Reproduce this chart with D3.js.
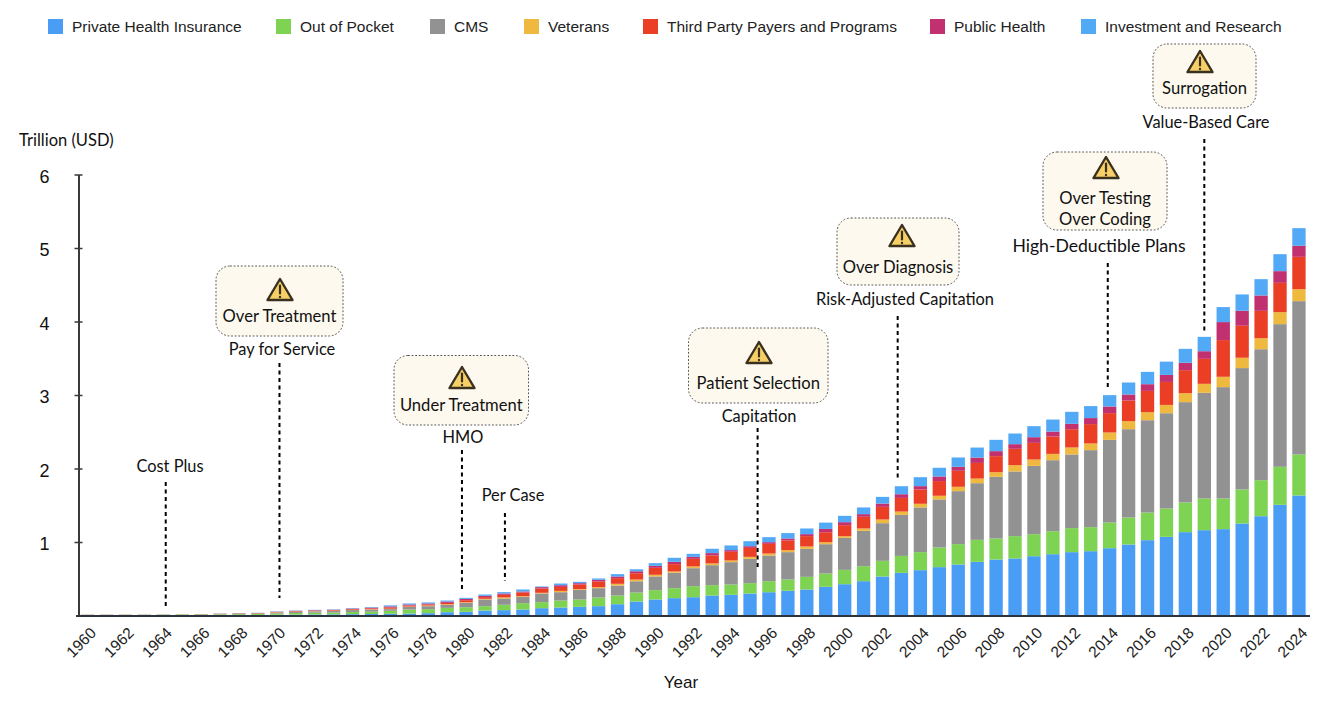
<!DOCTYPE html>
<html><head><meta charset="utf-8">
<script src="https://cdn.jsdelivr.net/npm/d3@7"></script>
<style>html,body{margin:0;padding:0;background:#fff}svg{display:block}</style>
</head><body><svg id="c" width="1332" height="704"></svg>
<script>
const years = d3.range(1960, 2025);
const seriesNames = ["Private Health Insurance","Out of Pocket","CMS","Veterans","Third Party Payers and Programs","Public Health","Investment and Research"];
const privateHealth = [.002,.002,.002,.002,.003,.003,.003,.004,.005,.006,.010,.012,.014,.015,.018,.020,.023,.027,.032,.045,.050,.068,.073,.082,.100,.109,.118,.127,.154,.190,.218,.236,.249,.272,.281,.299,.317,.336,.354,.390,.426,.467,.531,.580,.617,.658,.694,.730,.762,.776,.807,.834,.862,.875,.916,.966,1.025,1.070,1.134,1.161,1.175,1.252,1.351,1.506,1.633];
const outOfPocket = [.007,.007,.008,.008,.009,.010,.010,.011,.013,.014,.018,.022,.024,.026,.030,.032,.041,.054,.054,.059,.063,.059,.073,.086,.082,.095,.100,.118,.118,.122,.127,.136,.150,.141,.141,.141,.150,.154,.172,.181,.195,.204,.213,.231,.245,.268,.277,.299,.286,.304,.299,.313,.327,.327,.349,.367,.376,.385,.404,.431,.417,.463,.490,.517,.558];
const cms = [0,0,0,0,0,0,.002,.004,.007,.008,.012,.016,.018,.020,.026,.028,.023,.036,.041,.041,.059,.091,.086,.086,.118,.113,.132,.127,.136,.154,.186,.209,.245,.272,.304,.331,.349,.372,.381,.399,.435,.481,.512,.558,.608,.653,.721,.771,.839,.880,.930,.966,1.002,1.048,1.125,1.202,1.256,1.297,1.365,1.438,1.515,1.651,1.782,1.941,2.086];
const veterans = [.001,.001,.001,.001,.001,.001,.001,.001,.002,.002,.003,.003,.003,.004,.004,.005,.005,.005,.009,.009,.009,.009,.014,.009,.009,.018,.009,.014,.023,.023,.023,.018,.023,.023,.023,.027,.027,.027,.032,.027,.023,.032,.050,.045,.050,.050,.059,.063,.063,.086,.086,.086,.095,.091,.100,.109,.109,.113,.122,.122,.141,.141,.150,.163,.163];
const thirdParty = [.001,.001,.001,.001,.001,.001,.002,.002,.003,.003,.005,.007,.008,.008,.010,.012,.018,.014,.014,.018,.027,.023,.036,.050,.059,.054,.063,.077,.077,.086,.095,.100,.104,.109,.118,.122,.132,.132,.141,.136,.150,.159,.172,.186,.195,.200,.218,.213,.218,.222,.227,.236,.249,.263,.263,.281,.290,.313,.313,.340,.499,.435,.372,.399,.440];
const publicHealth = [.001,.001,.001,.001,.001,.001,.001,.002,.002,.002,.003,.004,.005,.005,.006,.010,.014,.014,.014,.018,.018,.018,.018,.014,.018,.023,.018,.023,.023,.027,.027,.032,.027,.032,.023,.023,.023,.027,.027,.045,.041,.036,.045,.050,.045,.063,.054,.073,.068,.063,.077,.068,.073,.082,.091,.082,.091,.095,.100,.104,.245,.204,.209,.159,.150];
const investment = [.001,.001,.001,.001,.001,.001,.001,.002,.002,.002,.004,.004,.005,.005,.006,.008,.014,.014,.014,.014,.014,.018,.018,.027,.009,.023,.018,.018,.032,.027,.036,.054,.041,.059,.063,.068,.068,.073,.077,.086,.086,.091,.091,.109,.122,.118,.127,.136,.154,.145,.150,.163,.163,.163,.154,.163,.168,.181,.190,.195,.204,.222,.222,.231,.240];
const yTicks = [1,2,3,4,5,6];
const xTickYears = years.filter(y => y % 2 === 0);
const policyNames = ["Cost Plus","Pay for Service","HMO","Per Case","Capitation","Risk-Adjusted Capitation","High-Deductible Plans","Value-Based Care"];
const policyYears = [1964.13,1970.14,1979.78,1982.05,1995.4,2002.8,2013.9,2019];
const riskNames = [null,["Over Treatment"],["Under Treatment"],null,["Patient Selection"],["Over Diagnosis"],["Over Testing","Over Coding"],["Surrogation"]];

// styles and layout
const colors = ["#4a9df5","#7fd353","#929292","#efb83f","#ea3f24","#c1306f","#52a9f6"];
const legendSwatchX = [48,276,430,524,643,930,1081];
const sans = "'Liberation Sans',Arial,sans-serif", hum = "Lato,'Open Sans',sans-serif";
// per annotation: label centre x,y; line top, line bottom; box x0,y0,x1,y1; icon cx,cy; text ys
const geo = [
 {lx:170,ly:466,t:482,b:606},
 {lx:282,ly:349,t:363,b:598,box:[216,266,343,336],icon:[280,290],ty:[316]},
 {lx:463,ly:437,t:450,b:592,box:[394,355.5,528.5,425],icon:[462,378],ty:[405]},
 {lx:513,ly:495,t:513,b:581},
 {lx:759,ly:416,t:428,b:568,box:[688.5,328,828,403],icon:[759,353],ty:[383.5]},
 {lx:905,ly:299,t:316,b:480,box:[837,218,959,285],icon:[902,236],ty:[267]},
 {lx:1099,ly:246,t:263,b:387,box:[1043,152,1167,230],icon:[1106,168],ty:[198,219],big:true},
 {lx:1206,ly:122,t:139,b:331,box:[1153,44,1256,108],icon:[1200,62],ty:[88]}
];

const svg = d3.select("#c");
const x = d3.scaleBand().domain(years).range([78.1,1308.4]).paddingInner(0.295).paddingOuter(0.147);
const xYear = d3.scaleLinear().domain([1960,2024]).range([x(1960)+x.bandwidth()/2, x(2024)+x.bandwidth()/2]);
const y = d3.scaleLinear().domain([0,6]).range([615.5,174.5]);

const table = years.map((yr,i)=>({year:yr,s0:privateHealth[i],s1:outOfPocket[i],s2:cms[i],s3:veterans[i],s4:thirdParty[i],s5:publicHealth[i],s6:investment[i]}));
const stack = d3.stack().keys(["s0","s1","s2","s3","s4","s5","s6"])(table);

svg.append("g").selectAll("g").data(stack).join("g").attr("fill",(d,i)=>colors[i])
  .selectAll("rect").data(d=>d).join("rect")
  .attr("x",d=>x(d.data.year)).attr("width",x.bandwidth())
  .attr("y",d=>y(d[1])).attr("height",d=>y(d[0])-y(d[1]));

// axes
const yAxis = svg.append("g").attr("transform","translate(78.5,0)")
  .call(d3.axisLeft(y).tickValues(yTicks).tickFormat(d3.format("d")).tickSize(0).tickPadding(29));
yAxis.select(".domain").attr("stroke","#3a3a3a").attr("stroke-width",2);
yAxis.selectAll("text").attr("font-family",sans).attr("font-size",18).attr("fill","#111").attr("dy","0.42em");
yAxis.selectAll(".tick").append("line").attr("x1",-4).attr("x2",4).attr("stroke","#3a3a3a").attr("stroke-width",1.5);

const xAxis = svg.append("g").attr("transform","translate(0,616)")
  .call(d3.axisBottom(xYear).tickValues(xTickYears).tickFormat(d3.format("d")).tickSize(0));
xAxis.select(".domain").attr("d","M76,0H1310").attr("stroke","#2b3440").attr("stroke-width",2);
xAxis.selectAll("text").attr("font-family",sans).attr("font-size",15.5).attr("fill","#222")
  .attr("text-anchor","end").attr("dy",0).attr("y",0)
  .attr("transform","translate(9,18) rotate(-45)");

svg.append("text").attr("x",19).attr("y",146).attr("font-family",hum).attr("font-size",16.5).attr("fill","#111").text("Trillion (USD)");
svg.append("text").attr("x",681).attr("y",688).attr("text-anchor","middle").attr("font-family",sans).attr("font-size",17).attr("fill","#111").text("Year");

// legend
const leg = svg.append("g").selectAll("g").data(seriesNames).join("g").attr("transform",(d,i)=>`translate(${legendSwatchX[i]},19)`);
leg.append("rect").attr("width",15).attr("height",15).attr("fill",(d,i)=>colors[i]);
leg.append("text").attr("x",24).attr("y",13).attr("font-family",sans).attr("font-size",15.5).attr("fill","#222").text(d=>d);

// annotations
const ann = svg.append("g").selectAll("g").data(policyNames).join("g");
ann.append("line").attr("x1",(d,i)=>xYear(policyYears[i])).attr("x2",(d,i)=>xYear(policyYears[i]))
  .attr("y1",(d,i)=>geo[i].t).attr("y2",(d,i)=>geo[i].b)
  .attr("stroke","#000").attr("stroke-width",2).attr("stroke-dasharray","4 3.5");
ann.append("text").attr("x",(d,i)=>geo[i].lx).attr("y",(d,i)=>geo[i].ly+5.5).attr("text-anchor","middle")
  .attr("font-family",hum).attr("font-size",(d,i)=>geo[i].big?17.6:16.4).attr("fill","#111").text(d=>d);

riskNames.forEach((names,i)=>{
  if(!names) return;
  const g = geo[i], [a,b,c,e] = g.box, s = svg.append("g");
  s.append("rect").attr("x",a).attr("y",b).attr("width",c-a).attr("height",e-b).attr("rx",14)
    .attr("fill","#fdf9ee").attr("stroke","#555").attr("stroke-width",1).attr("stroke-dasharray","1.8 1.8");
  const ic = s.append("g").attr("transform",`translate(${g.icon[0]},${g.icon[1]})`);
  ic.append("path").attr("d","M0,-11 L12.5,10 L-12.5,10 Z").attr("fill","#f6cf66").attr("stroke","#3a3020").attr("stroke-width",2.4).attr("stroke-linejoin","round");
  ic.append("path").attr("d","M0,-4.5 V3.5").attr("stroke","#3a3020").attr("stroke-width",2.2).attr("stroke-linecap","round");
  ic.append("circle").attr("cy",7).attr("r",1.2).attr("fill","#3a3020");
  names.forEach((t,k)=>s.append("text").attr("x",(a+c)/2).attr("y",g.ty[k]+5.5).attr("text-anchor","middle")
    .attr("font-family",hum).attr("font-size",16.6).attr("fill","#111").text(t));
});
</script></body></html>
